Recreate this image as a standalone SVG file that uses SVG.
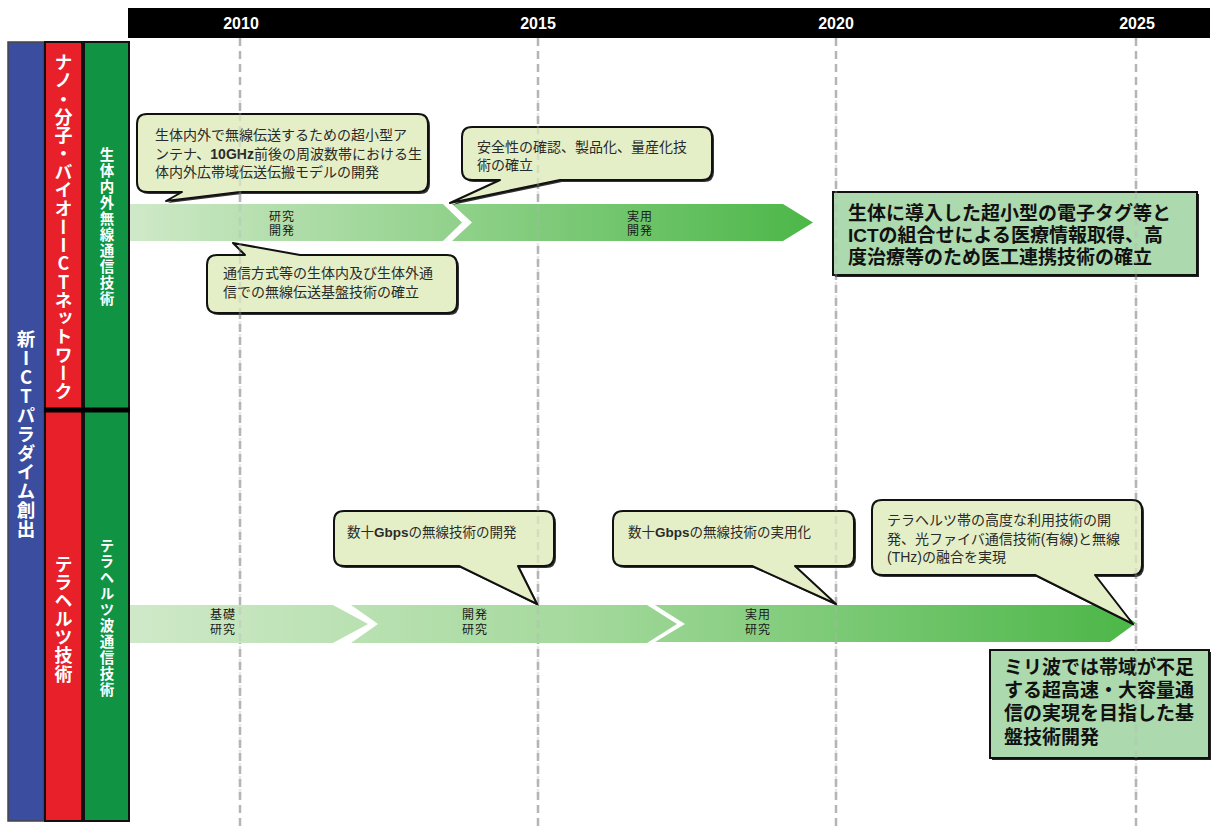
<svg xmlns="http://www.w3.org/2000/svg" width="1215" height="828" viewBox="0 0 1215 828">
<defs>
<linearGradient id="gU" gradientUnits="userSpaceOnUse" x1="130" y1="0" x2="813" y2="0"><stop offset="0" stop-color="#cfe9c8"/><stop offset="1" stop-color="#4cb748"/></linearGradient>
<linearGradient id="gL" gradientUnits="userSpaceOnUse" x1="130" y1="0" x2="1135" y2="0"><stop offset="0" stop-color="#cfe9c8"/><stop offset="0.45" stop-color="#a4d99c"/><stop offset="1" stop-color="#4cb748"/></linearGradient>
<style>
.f{font-family:'Liberation Sans','Noto Sans CJK JP',sans-serif}
.yr{font-family:'Liberation Sans',sans-serif;font-weight:bold;font-size:16px;fill:#fff;text-anchor:middle}
.grid{stroke:#b5b5b5;stroke-width:2.5;stroke-dasharray:8 5}
.gridtop{stroke:#b5b5b5;stroke-width:2.5;stroke-dasharray:8 5;opacity:0.3}
.co{fill:#e4efc7;stroke:#111;stroke-width:2;stroke-linejoin:round}
.cosh{fill:#333}
.ct{font-size:14px;fill:#2a2a2a}
.ct2{font-size:13.5px;fill:#2a2a2a}
.al{font-size:12px;fill:#1a1a1a;text-anchor:middle;letter-spacing:1px}
.gb{fill:#acd9ae;stroke:#111;stroke-width:2}
.gt{font-size:19px;font-weight:bold;fill:#111}
.vt{font-family:'Noto Sans CJK JP',sans-serif;writing-mode:vertical-rl;text-orientation:upright;fill:#fff;font-weight:bold;text-anchor:middle}
</style>
</defs>
<rect width="1215" height="828" fill="#fff"/>
<g id="header">
<rect x="128" y="8" width="1082" height="30" fill="#000"/>
<text class="yr" x="241" y="29">2010</text>
<text class="yr" x="538" y="29">2015</text>
<text class="yr" x="836" y="29">2020</text>
<text class="yr" x="1137" y="29">2025</text>
</g>
<g id="grid">
<line class="grid" x1="240" y1="38" x2="240" y2="828"/>
<line class="grid" x1="538" y1="38" x2="538" y2="828"/>
<line class="grid" x1="836" y1="38" x2="836" y2="828"/>
<line class="grid" x1="1136" y1="38" x2="1136" y2="828"/>
</g>
<g id="left-panel">
<rect x="8" y="42" width="36" height="779" fill="#3a4d9f" stroke="#444" stroke-width="1.5"/>
<rect x="45" y="42" width="37" height="779" fill="#e8202a" stroke="#111" stroke-width="2"/>
<rect x="84" y="42" width="45" height="779" fill="#109444" stroke="#111" stroke-width="2"/>
<line x1="44" y1="410" x2="130" y2="410" stroke="#000" stroke-width="5"/>
<text class="vt" x="26" y="434" font-size="18.5px" letter-spacing="0.5">新ICTパラダイム創出</text>
<text class="vt" x="63.5" y="227" font-size="18px" letter-spacing="0.3">ナノ・分子・バイオーICTネットワーク</text>
<text class="vt" x="107" y="227" font-size="14.5px" letter-spacing="1.5">生体内外無線通信技術</text>
<text class="vt" x="63.5" y="619" font-size="18px" letter-spacing="0.3">テラヘルツ技術</text>
<text class="vt" x="107" y="618" font-size="14.5px" letter-spacing="1.5" font-weight="normal">テラヘルツ波通信技術</text>
</g>
<g id="connectors">
<polygon id="arrow-u1" points="130,204 443,204 462,222.5 443,241 130,241" fill="url(#gU)"/>
<polygon id="arrow-u2" points="452,204 783,204 813,222.5 783,241 452,241 472,222.5" fill="url(#gU)"/>
<polygon id="arrow-l1" points="130,605 333,605 368,624 333,643 130,643" fill="url(#gL)"/>
<polygon id="arrow-l2" points="351,605 647,605 677,624 647,643 351,643 378,624" fill="url(#gL)"/>
<polygon id="arrow-l3" points="655,605 1110,605 1136,623 1110,642 655,642 685,624" fill="url(#gL)"/>
</g>
<g id="arrow-labels" class="f">
<text class="al" x="282" y="221">研究</text><text class="al" x="282" y="235">開発</text>
<text class="al" x="640" y="221">実用</text><text class="al" x="640" y="235">開発</text>
<text class="al" x="223" y="619">基礎</text><text class="al" x="223" y="634">研究</text>
<text class="al" x="475" y="619">開発</text><text class="al" x="475" y="634">研究</text>
<text class="al" x="758" y="619">実用</text><text class="al" x="758" y="634">研究</text>
</g>
<g id="callout-u1" class="f">
<path class="cosh" transform="translate(2,2)" d="M147,114 H418 Q428,114 428,124 V182 Q428,192 418,192 H240 L166,201 L182,192 H147 Q137,192 137,182 V124 Q137,114 147,114 Z"/>
<path class="co" d="M147,114 H418 Q428,114 428,124 V182 Q428,192 418,192 H240 L166,201 L182,192 H147 Q137,192 137,182 V124 Q137,114 147,114 Z"/>
<text class="ct" x="155" y="140">生体内外で無線伝送するための超小型ア</text>
<text class="ct" x="155" y="158.5">ンテナ、<tspan font-weight="bold">10GHz</tspan>前後の周波数帯における生</text>
<text class="ct" x="155" y="177">体内外広帯域伝送伝搬モデルの開発</text>
</g>
<g id="callout-u2" class="f">
<path class="cosh" transform="translate(2,2)" d="M217,255 H245 L233,243 L300,255 H447 Q457,255 457,265 V303 Q457,313 447,313 H217 Q207,313 207,303 V265 Q207,255 217,255 Z"/>
<path class="co" d="M217,255 H245 L233,243 L300,255 H447 Q457,255 457,265 V303 Q457,313 447,313 H217 Q207,313 207,303 V265 Q207,255 217,255 Z"/>
<text class="ct" x="223" y="278">通信方式等の生体内及び生体外通</text>
<text class="ct" x="223" y="297">信での無線伝送基盤技術の確立</text>
</g>
<g id="callout-u3" class="f">
<path class="cosh" transform="translate(2,2)" d="M472,127 H702 Q712,127 712,137 V170 Q712,180 702,180 H560 L450,203 L500,180 H472 Q462,180 462,170 V137 Q462,127 472,127 Z"/>
<path class="co" d="M472,127 H702 Q712,127 712,137 V170 Q712,180 702,180 H560 L450,203 L500,180 H472 Q462,180 462,170 V137 Q462,127 472,127 Z"/>
<text class="ct" x="477" y="152">安全性の確認、製品化、量産化技</text>
<text class="ct" x="477" y="169.5">術の確立</text>
</g>
<g id="callout-l1" class="f">
<path class="cosh" transform="translate(2,2)" d="M344,511 H544 Q554,511 554,521 V556 Q554,566 544,566 H518 L537,604 L459,566 H344 Q334,566 334,556 V521 Q334,511 344,511 Z"/>
<path class="co" d="M344,511 H544 Q554,511 554,521 V556 Q554,566 544,566 H518 L537,604 L459,566 H344 Q334,566 334,556 V521 Q334,511 344,511 Z"/>
<text class="ct2" x="347" y="537">数十<tspan font-weight="bold">Gbps</tspan>の無線技術の開発</text>
</g>
<g id="callout-l2" class="f">
<path class="cosh" transform="translate(2,2)" d="M623,511 H844 Q854,511 854,521 V556 Q854,566 844,566 H795 L836,604 L752,566 H623 Q613,566 613,556 V521 Q613,511 623,511 Z"/>
<path class="co" d="M623,511 H844 Q854,511 854,521 V556 Q854,566 844,566 H795 L836,604 L752,566 H623 Q613,566 613,556 V521 Q613,511 623,511 Z"/>
<text class="ct2" x="628" y="537">数十<tspan font-weight="bold">Gbps</tspan>の無線技術の実用化</text>
</g>
<g id="callout-l3" class="f">
<path class="cosh" transform="translate(2,2)" d="M882,500 H1132 Q1142,500 1142,510 V565 Q1142,575 1132,575 H1095 L1133,624 L1035,575 H882 Q872,575 872,565 V510 Q872,500 882,500 Z"/>
<path class="co" d="M882,500 H1132 Q1142,500 1142,510 V565 Q1142,575 1132,575 H1095 L1133,624 L1035,575 H882 Q872,575 872,565 V510 Q872,500 882,500 Z"/>
<text class="ct" x="887" y="525">テラヘルツ帯の高度な利用技術の開</text>
<text class="ct" x="887" y="543.5">発、光ファイバ通信技術(有線)と無線</text>
<text class="ct" x="887" y="562">(THz)の融合を実現</text>
</g>
<g id="goal-1" class="f">
<rect x="835" y="194" width="364" height="83" fill="#222"/>
<rect class="gb" x="833" y="192" width="364" height="83"/>
<text class="gt" x="848" y="220">生体に導入した超小型の電子タグ等と</text>
<text class="gt" x="848" y="242">ICTの組合せによる医療情報取得、高</text>
<text class="gt" x="848" y="264">度治療等のため医工連携技術の確立</text>
</g>
<g id="goal-2" class="f">
<rect x="992" y="652" width="219" height="108" fill="#222"/>
<rect class="gb" x="990" y="650" width="219" height="108"/>
<text class="gt" x="1004" y="674">ミリ波では帯域が不足</text>
<text class="gt" x="1004" y="697">する超高速・大容量通</text>
<text class="gt" x="1004" y="720">信の実現を目指した基</text>
<text class="gt" x="1004" y="744">盤技術開発</text>
</g>
<g id="grid-overlay">
<line class="gridtop" x1="240" y1="100" x2="240" y2="800"/>
<line class="gridtop" x1="538" y1="100" x2="538" y2="800"/>
<line class="gridtop" x1="836" y1="100" x2="836" y2="800"/>
<line class="gridtop" x1="1136" y1="100" x2="1136" y2="800"/>
</g>
</svg>
